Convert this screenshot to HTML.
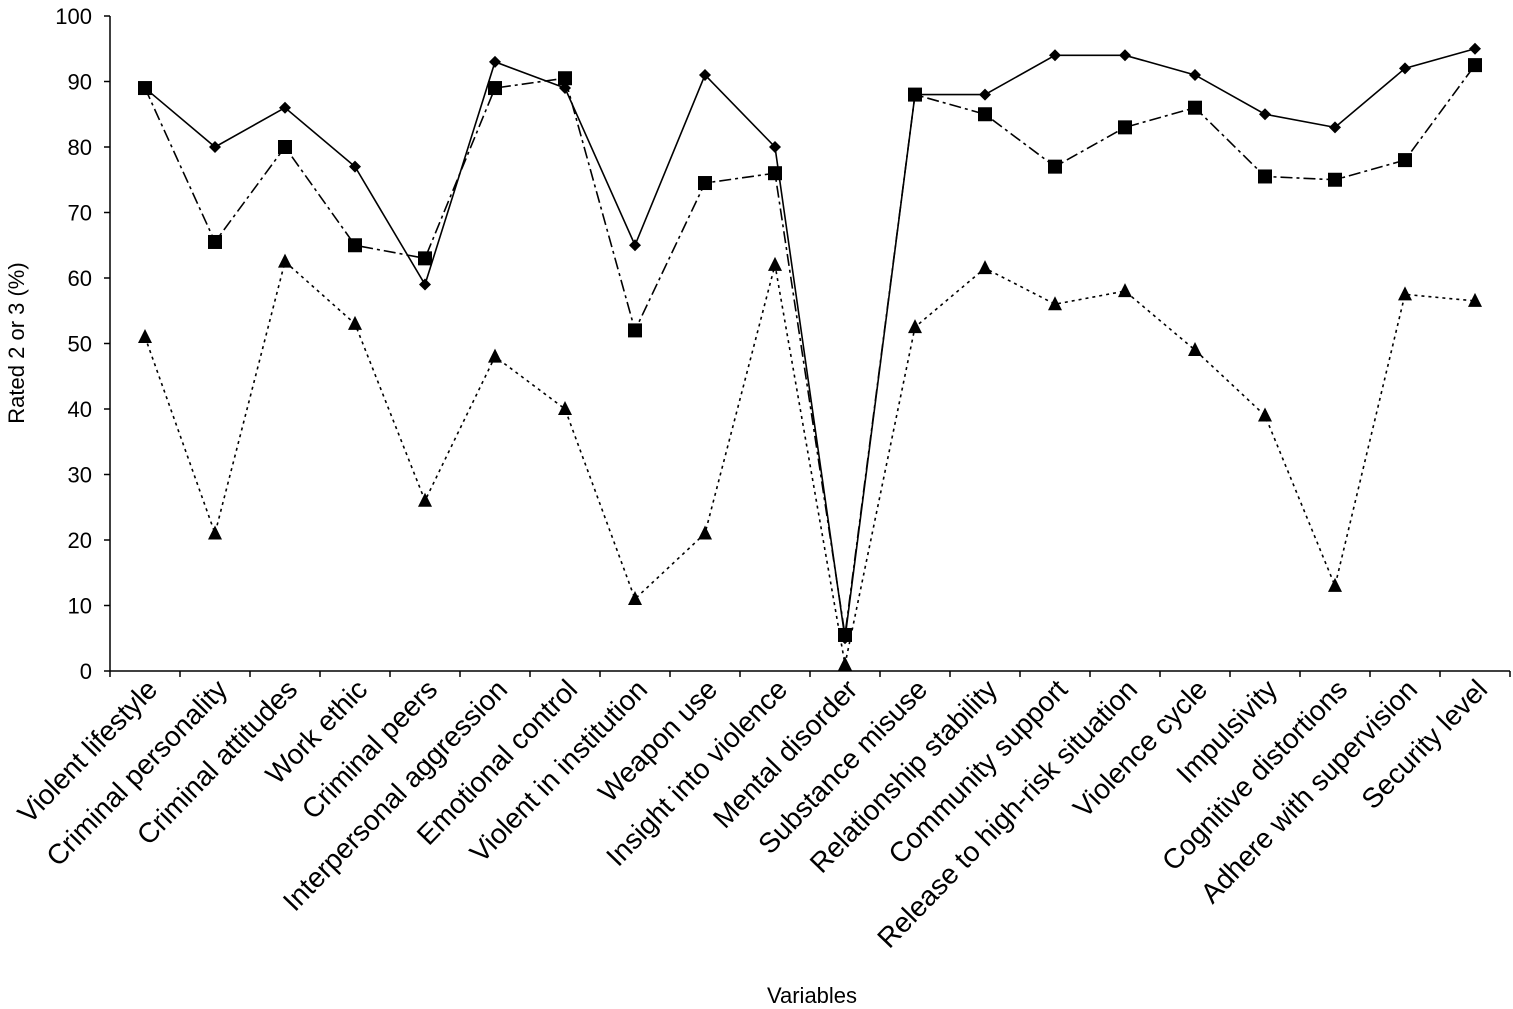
<!DOCTYPE html>
<html><head><meta charset="utf-8"><style>
body{margin:0;background:#fff}
svg{display:block;font-family:"Liberation Sans",sans-serif}
</style></head><body>
<svg id="chart" width="1513" height="1009" viewBox="0 0 1513 1009" xmlns="http://www.w3.org/2000/svg"></svg>
<script>
const categories=["Violent lifestyle","Criminal personality","Criminal attitudes","Work ethic","Criminal peers","Interpersonal aggression","Emotional control","Violent in institution","Weapon use","Insight into violence","Mental disorder","Substance misuse","Relationship stability","Community support","Release to high-risk situation","Violence cycle","Impulsivity","Cognitive distortions","Adhere with supervision","Security level"];
const seriesDiamond=[89,80,86,77,59,93,89,65,91,80,5,88,88,94,94,91,85,83,92,95];
const seriesSquare=[89,65.5,80,65,63,89,90.5,52,74.5,76,5.5,88,85,77,83,86,75.5,75,78,92.5];
const seriesTriangle=[51,21,62.5,53,26,48,40,11,21,62,1,52.5,61.5,56,58,49,39,13,57.5,56.5];
const yTicks=[0,10,20,30,40,50,60,70,80,90,100];

const svg=document.getElementById('chart');
const NS='http://www.w3.org/2000/svg';
const X0=110,Y0=671,Ytop=16,band=70;
const xs=i=>X0+band/2+band*i;
const ys=v=>Y0-(Y0-Ytop)*v/100;
function mk(tag,attrs,parent){const e=document.createElementNS(NS,tag);for(const k in attrs)e.setAttribute(k,attrs[k]);(parent||svg).appendChild(e);return e;}

let ax=mk('line',{x1:X0,y1:Ytop,x2:X0,y2:Y0,stroke:'#000','stroke-width':1.5});


let bx=mk('line',{x1:X0,y1:Y0,x2:X0+band*categories.length,y2:Y0,stroke:'#000','stroke-width':1.5});



yTicks.forEach(t=>{
 const y=ys(t);
 let l=mk('line',{x1:X0-6,y1:y,x2:X0,y2:y,stroke:'#000','stroke-width':1.5});
 
 
 let tx=mk('text',{x:92,y:y+8,'text-anchor':'end','font-size':22});
 tx.textContent=t;
 
 
});
for(let i=0;i<=categories.length;i++){
 let l=mk('line',{x1:X0+band*i,y1:Y0,x2:X0+band*i,y2:Y0+6,stroke:'#000','stroke-width':1.5});
 
 
}
categories.forEach((c,i)=>{
 const x=xs(i)+14,y=Y0+20;
 let t=mk('text',{x:x,y:y,'text-anchor':'end','font-size':28,transform:`rotate(-46 ${x} ${y})`});
 t.textContent=c;
 
 
});

function series(vals,dash,name,marker){
 const g=mk('g',{});
 
 
 const pts=vals.map((v,i)=>xs(i)+','+ys(v)).join(' ');
 const pl=mk('polyline',{points:pts,fill:'none',stroke:'#000','stroke-width':1.6,'stroke-dasharray':dash},g);
 
 
 vals.forEach((v,i)=>{
  const x=xs(i),y=ys(v);let m;
  if(marker==='diamond')m=mk('polygon',{points:`${x},${y-6} ${x+6},${y} ${x},${y+6} ${x-6},${y}`,fill:'#000'},g);
  else if(marker==='square')m=mk('rect',{x:x-7,y:y-7,width:14,height:14,fill:'#000'},g);
  else m=mk('polygon',{points:`${x},${y-8} ${x+7},${y+6} ${x-7},${y+6}`,fill:'#000'},g);
  
  
 });
}
series(seriesTriangle,'3 4','triangle-series','triangle');
series(seriesSquare,'12 4 3 4','square-series','square');
series(seriesDiamond,'none','diamond-series','diamond');

let yt=mk('text',{x:24,y:343,'text-anchor':'middle','font-size':22,transform:'rotate(-90 24 343)'});
yt.textContent='Rated 2 or 3 (%)';


let xt=mk('text',{x:812,y:1003,'text-anchor':'middle','font-size':22});
xt.textContent='Variables';


</script>
</body></html>
